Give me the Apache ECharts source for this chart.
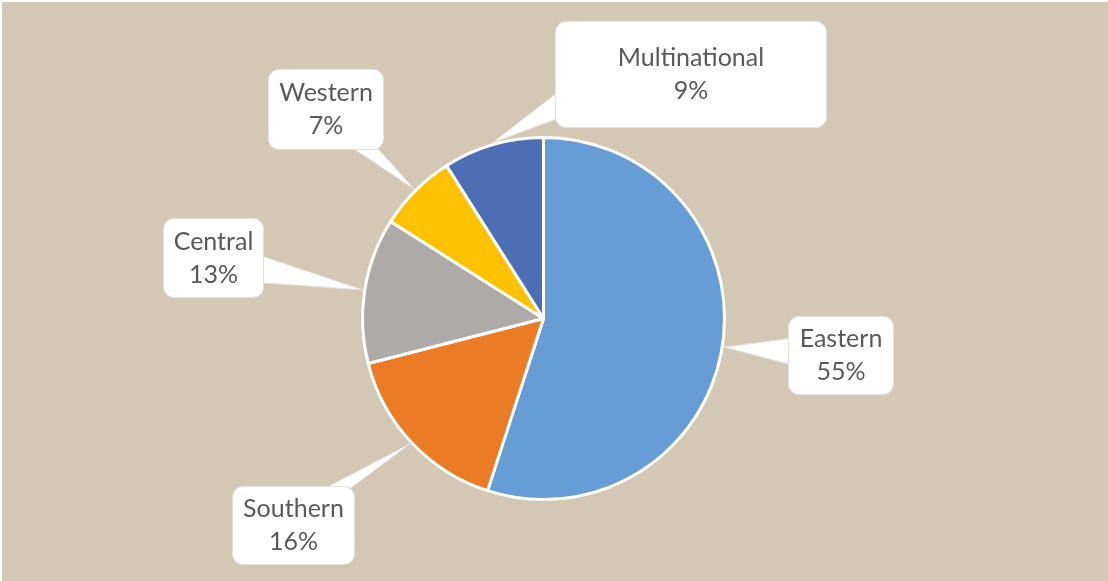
<!DOCTYPE html>
<html>
<head>
<meta charset="utf-8">
<script src="https://cdn.jsdelivr.net/npm/echarts@6/dist/echarts.min.js"></script>
<style>
  html, body { margin: 0; padding: 0; background: #ffffff; }
  #chart { position: absolute; left: 2px; top: 2px; width: 1106px; height: 579px; }
</style>
</head>
<body>
<div id="chart"></div>
<script>
// Share of programmes by region
const categories = ['Eastern', 'Southern', 'Central', 'Western', 'Multinational'];
const shares = [55, 16, 13, 7, 9];
const sliceColors = ['#669DD5', '#EB7B25', '#AEAAA8', '#FCC200', '#4D6EB5'];

// Page offset of the chart container
const OX = 2, OY = 2;

// Pie geometry (page coordinates)
const PIE = { cx: 543.5, cy: 318.5, r: 181 };

// Callout boxes (page coordinates: centre, width, height)
const calloutBoxes = [
  { cx: 841, cy: 355.5, w: 104, h: 77 },   // Eastern
  { cx: 293.5, cy: 525.5, w: 121, h: 77 }, // Southern
  { cx: 213.5, cy: 258, w: 99, h: 78 },    // Central
  { cx: 326, cy: 109.5, w: 114, h: 79 },   // Western
  { cx: 691, cy: 74.5, w: 270, h: 105 }    // Multinational
];

const LINE_H = 33;
const TEXT_COLOR = '#595959';
const BOX_BORDER = '#e2e2e2';

const chart = echarts.init(document.getElementById('chart'), null, { renderer: 'canvas' });

const total = shares.reduce((a, b) => a + b, 0);

// Pointer wedges from each callout box to the middle of its slice
function buildWedges() {
  const els = [];
  let acc = 0;
  shares.forEach((v, i) => {
    const mid = ((acc + v / 2) / total) * Math.PI * 2; // clockwise from 12 o'clock
    acc += v;
    const tip = [PIE.cx + (PIE.r + 2) * Math.sin(mid), PIE.cy - (PIE.r + 2) * Math.cos(mid)];
    const b = calloutBoxes[i];
    let dx = tip[0] - b.cx, dy = tip[1] - b.cy;
    const len = Math.hypot(dx, dy);
    dx /= len; dy /= len;
    // where the ray from the box centre leaves the box
    const tx = dx !== 0 ? (b.w / 2) / Math.abs(dx) : Infinity;
    const ty = dy !== 0 ? (b.h / 2) / Math.abs(dy) : Infinity;
    let ex, ey;
    const hw = 14, margin = 10 + hw;
    if (tx < ty) {
      ex = b.cx + Math.sign(dx) * b.w / 2;
      ey = Math.max(b.cy - b.h / 2 + margin, Math.min(b.cy + b.h / 2 - margin, b.cy + dy * tx));
      els.push(poly([[ex - Math.sign(dx) * 6, ey - hw], [ex - Math.sign(dx) * 6, ey + hw], tip]));
    } else {
      ey = b.cy + Math.sign(dy) * b.h / 2;
      ex = Math.max(b.cx - b.w / 2 + margin, Math.min(b.cx + b.w / 2 - margin, b.cx + dx * ty));
      els.push(poly([[ex - hw, ey - Math.sign(dy) * 6], [ex + hw, ey - Math.sign(dy) * 6], tip]));
    }
  });
  return els;
}

function poly(points) {
  return {
    type: 'polygon',
    z: 1,
    silent: true,
    shape: { points: points.map(p => [p[0] - OX, p[1] - OY]) },
    style: { fill: '#ffffff', stroke: BOX_BORDER, lineWidth: 1 }
  };
}

const pieData = categories.map((name, i) => {
  const b = calloutBoxes[i];
  return {
    name: name,
    value: shares[i],
    itemStyle: { color: sliceColors[i] },
    label: { padding: [(b.h - 2 * LINE_H) / 2, 0] }
  };
});

chart.setOption({
  animation: false,
  backgroundColor: '#D3C8B3',
  graphic: buildWedges(),
  series: [{
    type: 'pie',
    z: 2,
    center: [PIE.cx - OX, PIE.cy - OY],
    radius: PIE.r,
    startAngle: 90,
    clockwise: true,
    avoidLabelOverlap: false,
    itemStyle: { borderColor: '#ffffff', borderWidth: 3 },
    label: {
      show: true,
      formatter: '{b}\n{d}%',
      fontFamily: 'Lato',
      fontSize: 25,
      lineHeight: LINE_H,
      color: TEXT_COLOR,
      backgroundColor: '#ffffff',
      borderColor: BOX_BORDER,
      borderWidth: 1,
      borderRadius: 10
    },
    labelLine: { show: false },
    labelLayout: function (params) {
      const b = calloutBoxes[params.dataIndex];
      return {
        x: b.cx - OX,
        y: b.cy - OY,
        width: b.w,
        align: 'center',
        verticalAlign: 'middle'
      };
    },
    emphasis: { disabled: true },
    data: pieData
  }]
});
</script>
</body>
</html>
